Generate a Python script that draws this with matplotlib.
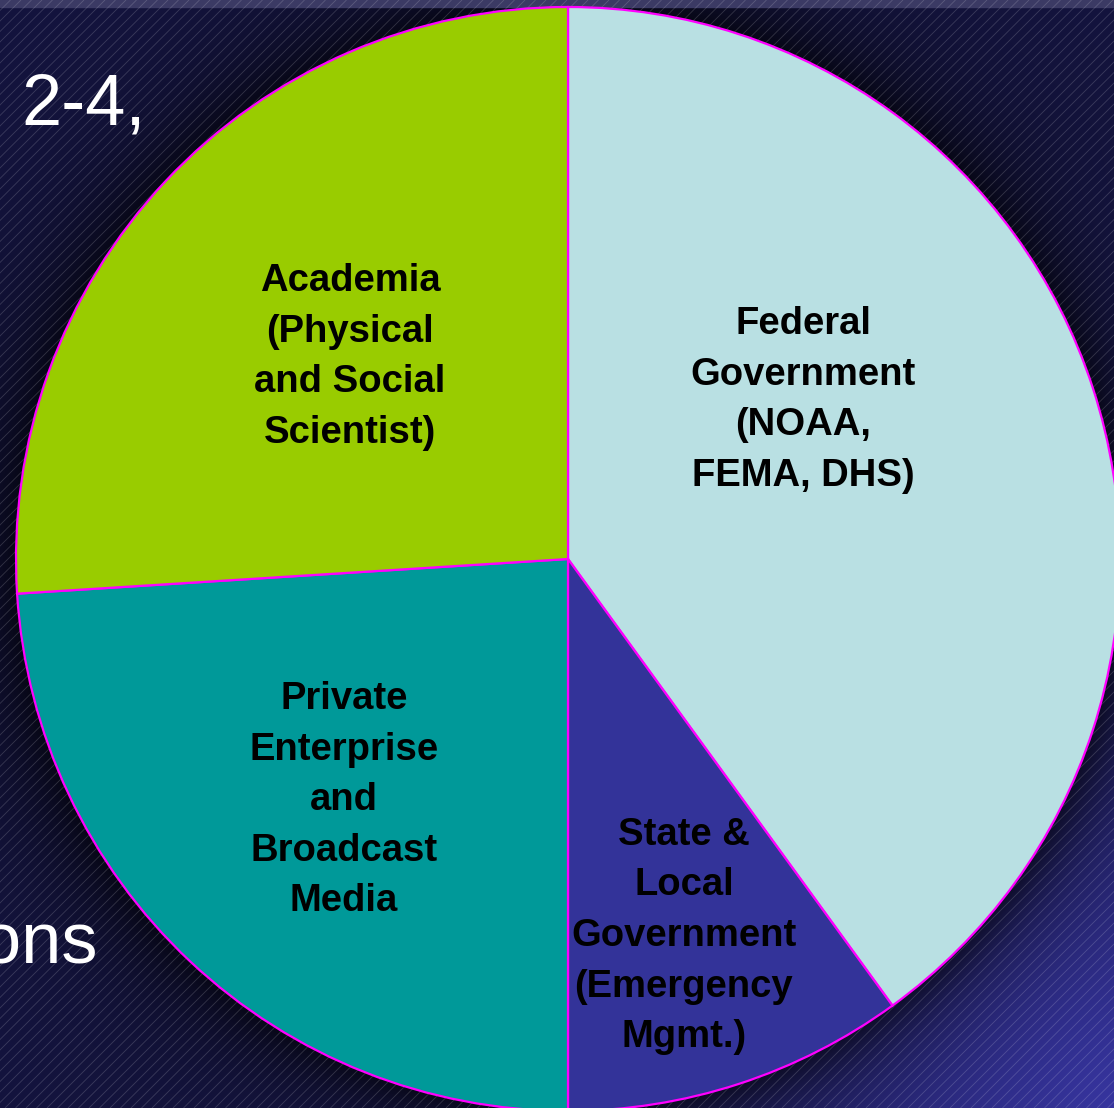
import numpy as np
import matplotlib.pyplot as plt
from matplotlib.collections import LineCollection
from matplotlib.patches import Rectangle

# slice data (clockwise from 12 o'clock)
labels = ["Federal\nGovernment\n(NOAA,\nFEMA, DHS)",
          "State &\nLocal\nGovernment\n(Emergency\nMgmt.)",
          "Private\nEnterprise\nand\nBroadcast\nMedia",
          "Academia\n(Physical\nand Social\nScientist)"]
shares = [40, 10, 24, 26]
colors = ["#B9E0E3", "#333399", "#009999", "#99CC00"]
# label centres, as fractions of the radius from the pie centre
label_pos = [(0.426, 0.288), (0.210, -0.683), (-0.406, -0.437), (-0.395, 0.366)]

W, H = 1114, 1108
CX, CY, R = 568, H - 559, 552

fig = plt.figure(figsize=(W / 100, H / 100), dpi=100)
ax = fig.add_axes([0, 0, 1, 1])
ax.set_axis_off()

# background: dark navy, lighter purple toward bottom-right, shadow round the pie
yy, xx = np.mgrid[0:H, 0:W]
yy = H - yy  # data coords, origin bottom
dark = np.array([0x14, 0x14, 0x3e]) / 255
light = np.array([0x37, 0x35, 0xa0]) / 255
d_br = np.hypot(xx - W, yy) / np.hypot(W, H)
t = np.clip(1 - d_br * 1.6, 0, 1) ** 1.4
img = dark[None, None, :] * (1 - t[..., None]) + light[None, None, :] * t[..., None]
dist = np.hypot(xx - CX, yy - CY) - R
shade = 1 - 0.65 * np.exp(-np.clip(dist, 0, None) / 50.0)
img = img * shade[..., None]
ax.imshow(img, extent=(0, W, 0, H), origin="upper", zorder=0, interpolation="bilinear")

# top strip
ax.add_patch(Rectangle((0, H - 7), W, 7, color="#3b3a64", zorder=1))

# diagonal pinstripes
step = 10.5
offs = np.arange(-H, W + H, step)
segs = [[(o, 0), (o + H, H)] for o in offs]
ax.add_collection(LineCollection(segs, colors="white", alpha=0.17, linewidths=0.6, zorder=2))

# slide text partly hidden behind the chart
ax.text(21, H - 125, "2-4,", color="white", fontsize=52, family="Liberation Sans",
        ha="left", va="baseline", zorder=3)
ax.text(98, H - 963, "ons", color="white", fontsize=52, family="Liberation Sans",
        ha="right", va="baseline", zorder=3)

wedges, _ = ax.pie(shares, colors=colors, startangle=90, counterclock=False,
                   center=(CX, CY), radius=R, frame=True,
                   wedgeprops=dict(edgecolor="#FF00FF", linewidth=1.6, zorder=4))
for w in wedges:
    w.set_zorder(4)

for lab, (fx, fy) in zip(labels, label_pos):
    ax.text(CX + fx * R, CY + fy * R, lab, ha="center", va="center",
            fontsize=27.5, fontweight="bold", family="Liberation Sans",
            color="black", linespacing=1.52, zorder=5)

ax.set_xlim(0, W)
ax.set_ylim(0, H)
ax.set_aspect("auto")
ax.set_axis_off()

fig.savefig("out.png", dpi=100)
